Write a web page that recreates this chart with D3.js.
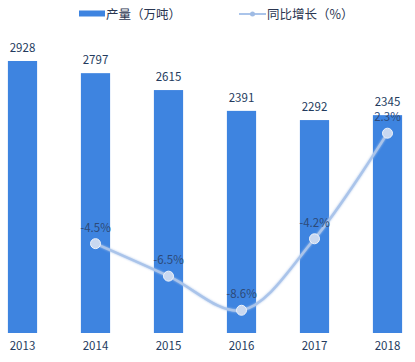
<!DOCTYPE html>
<html>
<head>
<meta charset="utf-8">
<style>
body { margin: 0; background: #fff; }
svg { display: block; font-family: "Noto Sans CJK SC", "Open Sans", sans-serif; }
.lbl { font-size: 11.5px; fill: #243b5e; }
.pct { font-size: 11.5px; fill: #2d4a78; }
.legend text { font-size: 12.5px; fill: #2a3550; }
</style>
</head>
<body>
<svg id="chart"></svg>
<script src="https://cdnjs.cloudflare.com/ajax/libs/d3/7.8.5/d3.min.js"></script>
<script>
// data
var years = ['2013', '2014', '2015', '2016', '2017', '2018']
var output = [2928, 2797, 2615, 2391, 2292, 2345]
var growth = [null, -4.5, -6.5, -8.6, -4.2, 2.3]
var legendNames = ['产量（万吨）', '同比增长（%）']

var W = 415, H = 362
var svg = d3.select('#chart').attr('width', W).attr('height', H)

var x = d3.scaleBand().domain(years).range([-14, 424]).paddingInner(0.6).paddingOuter(0.3)
var y = d3.scaleLinear().domain([0, 3000]).range([333, 54.3])
var y2 = d3.scaleLinear().domain([-10, 8]).range([333, 40.6])

// glow filter for the line
var defs = svg.append('defs')
var f = defs.append('filter').attr('id', 'glow').attr('x', '-20%').attr('y', '-20%').attr('width', '140%').attr('height', '140%')
f.append('feGaussianBlur').attr('stdDeviation', 1.2).attr('result', 'b')
var m = f.append('feMerge')
m.append('feMergeNode').attr('in', 'b')
m.append('feMergeNode').attr('in', 'SourceGraphic')

// bars
svg.selectAll('rect.bar')
  .data(output).enter().append('rect')
  .attr('class', 'bar')
  .attr('x', (d, i) => x(years[i]))
  .attr('width', x.bandwidth())
  .attr('y', d => y(d))
  .attr('height', d => y(0) - y(d))
  .attr('fill', '#3e84e0')

svg.selectAll('text.lbl')
  .data(output).enter().append('text')
  .attr('class', 'lbl')
  .attr('x', (d, i) => x(years[i]) + x.bandwidth() / 2)
  .attr('y', d => y(d) - 9)
  .attr('text-anchor', 'middle')
  .text(d => d)

// x axis labels
var xAxis = d3.axisBottom(x).tickSize(0).tickPadding(0)
var gx = svg.append('g').attr('transform', 'translate(0,' + 342 + ')').call(xAxis)
gx.select('.domain').remove()
gx.selectAll('text').attr('font-size', 11.5).attr('fill', '#243b5e').attr('dy', '0.7em')
  .style('font-family', '"Noto Sans CJK SC", "Open Sans", sans-serif')

// growth line
var pts = growth.map((v, i) => ({ year: years[i], v: v })).filter(d => d.v !== null)
var cx = d => x(d.year) + x.bandwidth() / 2
var line = d3.line().x(cx).y(d => y2(d.v)).curve(d3.curveCatmullRom.alpha(0.5))

svg.append('path')
  .datum(pts)
  .attr('d', line)
  .attr('fill', 'none')
  .attr('stroke', '#aac4ea')
  .attr('stroke-width', 2.5)
  .attr('filter', 'url(#glow)')

svg.selectAll('circle.pt')
  .data(pts).enter().append('circle')
  .attr('class', 'pt')
  .attr('cx', cx)
  .attr('cy', d => y2(d.v))
  .attr('r', 5)
  .attr('fill', '#c9d8f0')
  .attr('stroke', '#eef3fb')
  .attr('stroke-width', 1)

svg.selectAll('text.pct')
  .data(pts).enter().append('text')
  .attr('class', 'pct')
  .attr('x', cx)
  .attr('y', d => y2(d.v) - 12)
  .attr('text-anchor', 'middle')
  .text(d => d.v + '%')

// legend
var lg = svg.append('g').attr('class', 'legend')
lg.append('rect').attr('x', 79).attr('y', 10.5).attr('width', 26).attr('height', 6).attr('fill', '#3e84e0')
lg.append('text').attr('x', 106).attr('y', 18.5).text(legendNames[0])
lg.append('line').attr('x1', 239).attr('x2', 266).attr('y1', 14).attr('y2', 14)
  .attr('stroke', '#aac4ea').attr('stroke-width', 2)
lg.append('circle').attr('cx', 252.5).attr('cy', 14).attr('r', 2.5).attr('fill', '#9fbbe4')
lg.append('text').attr('x', 267).attr('y', 18.5).text(legendNames[1])
</script>
</body>
</html>
